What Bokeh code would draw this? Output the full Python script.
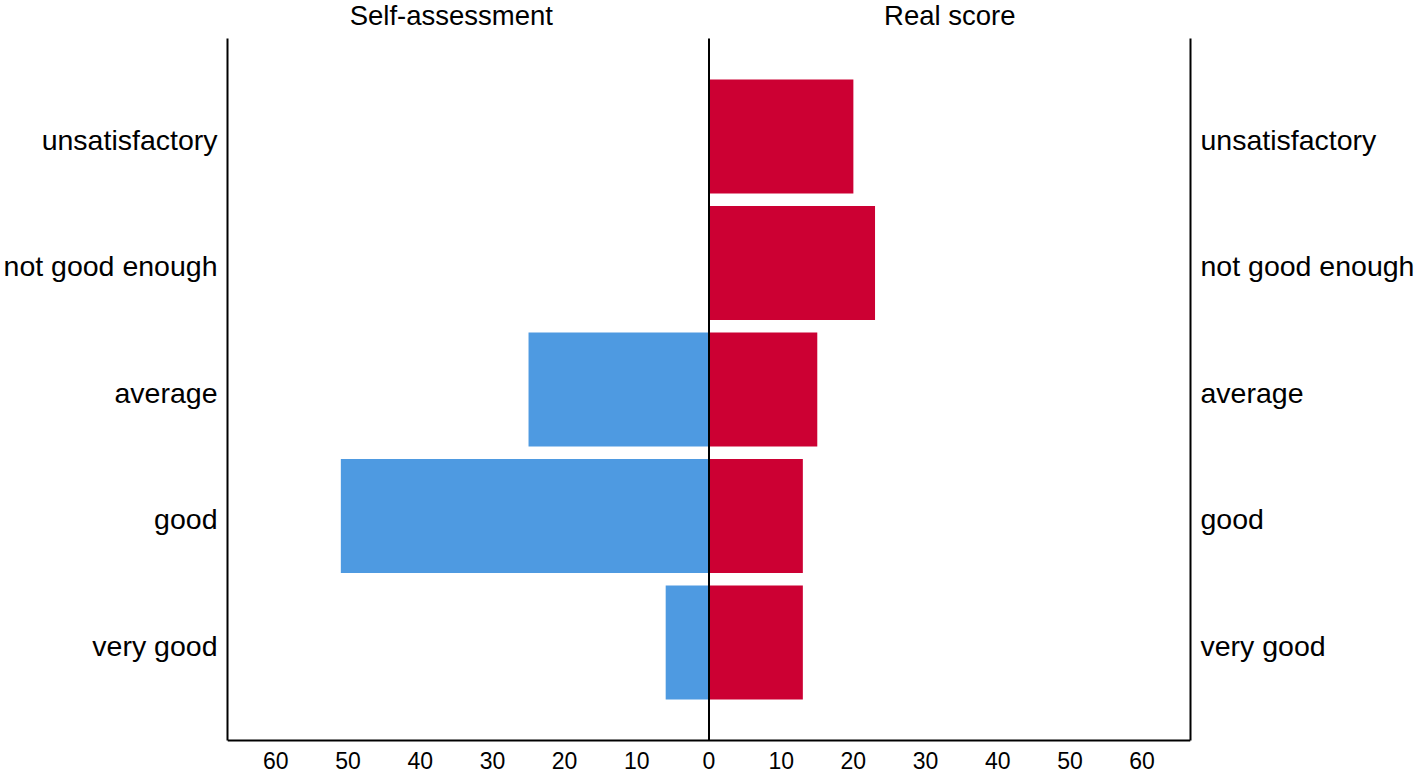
from bokeh.plotting import figure
from bokeh.models import Range1d, FixedTicker, CustomJSTickFormatter, LinearAxis, ColumnDataSource
from bokeh.core.properties import value
from bokeh.embed import file_html
from bokeh.resources import INLINE

# ---- data ----
categories = ["unsatisfactory", "not good enough", "average", "good", "very good"]
self_assessment = [0, 0, 25, 51, 6]
real_score = [20, 23, 15, 13, 13]
x_ticks = [-60, -50, -40, -30, -20, -10, 0, 10, 20, 30, 40, 50, 60]
titles = ["Self-assessment", "Real score"]

BLUE = "#4E9AE1"
RED = "#CC0033"
FONT = "Liberation Sans"

n = len(categories)
ypos = [n - i for i in range(n)]  # top category at the top

# layout constants (pixels -> data)
PX_PER_UNIT = 126.5
Y_LO = 0.2255                          # bottom of data area (x axis line)
Y_HI = n + 0.7745                      # top of data area (y axis lines end here)
Y_TOP = Y_LO + 740 / PX_PER_UNIT       # frame reaches the top of the canvas
Y_BOT = Y_LO - 35 / PX_PER_UNIT        # frame reaches the bottom of the canvas
TITLE_Y = Y_HI + 23 / PX_PER_UNIT
X_LIM = 66.7

p = figure(width=1418, height=775, output_backend="svg", toolbar_location=None,
           x_range=Range1d(-X_LIM, X_LIM), y_range=Range1d(Y_BOT, Y_TOP),
           min_border_left=227, min_border_right=228, min_border_top=0, min_border_bottom=0)
p.styles = {"position": "absolute", "left": "0px", "top": "0px"}
p.outline_line_color = None
p.xgrid.visible = False
p.ygrid.visible = False
p.background_fill_color = "white"
p.border_fill_color = "white"

p.hbar(y=ypos, left=[-v for v in self_assessment], right=0, height=0.9,
       fill_color=BLUE, line_color=None)
p.hbar(y=ypos, left=0, right=real_score, height=0.9,
       fill_color=RED, line_color=None)

# centre zero line
p.segment(x0=[0], y0=[Y_LO], x1=[0], y1=[Y_HI], line_color="black", line_width=2)

# panel titles
tsrc = ColumnDataSource(dict(x=[-35.7, 33.35], y=[TITLE_Y, TITLE_Y], text=titles))
p.text(x="x", y="y", text="text", source=tsrc, text_align="center",
       text_baseline="alphabetic", text_font=value(FONT), text_font_size="27.5px",
       text_color="black")

# x axis
xa = p.xaxis[0]
xa.fixed_location = Y_LO
xa.ticker = FixedTicker(ticks=x_ticks)
xa.formatter = CustomJSTickFormatter(code="return Math.abs(tick).toString();")
xa.minor_tick_line_color = None
xa.major_tick_line_color = None
xa.major_tick_out = 0
xa.major_tick_in = 0
xa.axis_line_width = 2
xa.axis_line_color = "black"
xa.major_label_text_font = FONT
xa.major_label_text_font_size = "23px"
xa.major_label_text_color = "black"
xa.major_label_standoff = 11

# y axes (left and right)
label_off = 0.026
yticker = FixedTicker(ticks=[v - label_off for v in ypos])
yfmt = CustomJSTickFormatter(args=dict(labels=categories, n=n),
                             code="return labels[n - Math.round(tick)];")

def style_y(ax):
    ax.ticker = yticker
    ax.formatter = yfmt
    ax.bounds = (Y_LO, Y_HI)
    ax.minor_tick_line_color = None
    ax.major_tick_line_color = None
    ax.major_tick_out = 0
    ax.major_tick_in = 0
    ax.axis_line_width = 2
    ax.axis_line_color = "black"
    ax.major_label_text_font = FONT
    ax.major_label_text_font_size = "28.5px"
    ax.major_label_text_color = "black"
    ax.major_label_standoff = 10

style_y(p.yaxis[0])
ra = LinearAxis()
style_y(ra)
p.add_layout(ra, "right")

open("out.html", "w").write(file_html(p, INLINE))
